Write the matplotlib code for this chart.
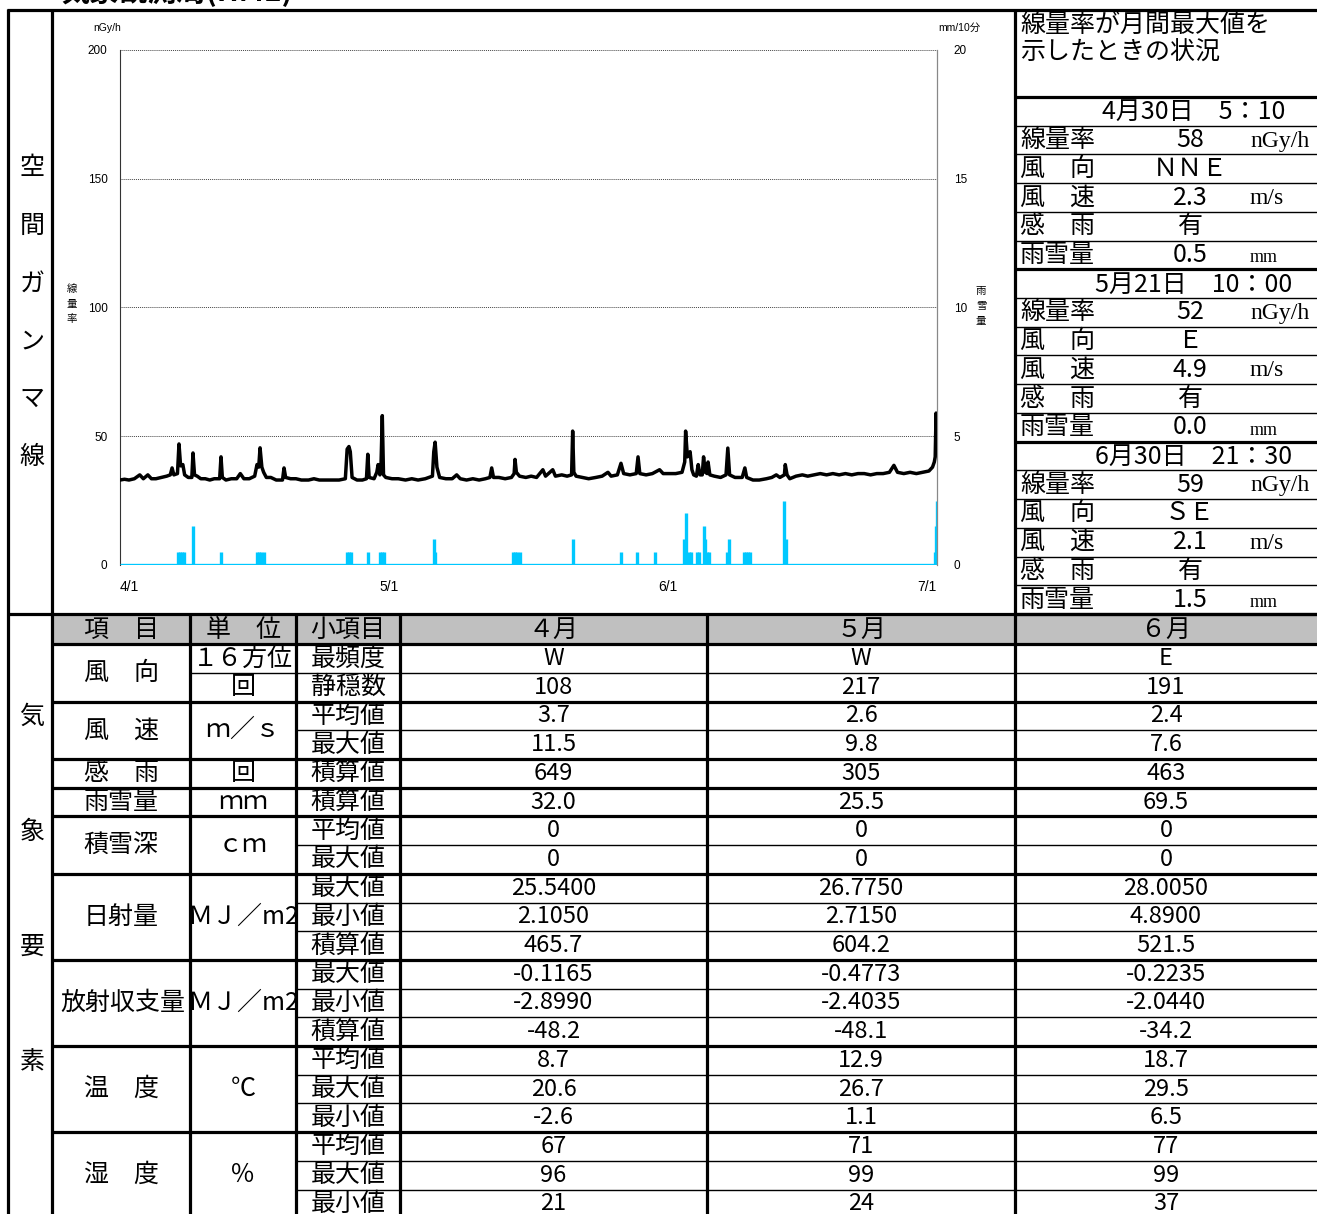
import matplotlib
matplotlib.use('Agg')
import matplotlib.pyplot as plt
from matplotlib.patches import Rectangle

plt.rcParams['font.family'] = ['Noto Sans CJK JP', 'DejaVu Sans']

W, H = 1317, 1214

# ---------------- time series (days since 4/1 00:00) ----------------
dose_readings = [
    (0.0, 33.0), (0.5, 33.3), (1.0, 33.0), (1.6, 33.5), (2.2, 35.0), (2.6, 33.5), (3.1, 35.0),
    (3.5, 33.5), (4.0, 33.5), (4.6, 34.0), (5.2, 34.5), (5.6, 35.0), (5.8, 37.7), (6.0, 35.0),
    (6.4, 35.5), (6.57, 47.0), (6.75, 38.5), (7.0, 39.0), (7.2, 35.0), (7.6, 34.0), (8.0, 34.0),
    (8.13, 43.5), (8.3, 35.0), (8.6, 34.5), (9.0, 33.5), (9.5, 33.5), (10.0, 33.0), (10.5, 33.5),
    (11.1, 33.5), (11.25, 42.0), (11.4, 34.0), (11.8, 33.0), (12.4, 33.5), (13.0, 33.5),
    (13.4, 35.5), (13.8, 33.5), (14.4, 33.5), (15.0, 34.5), (15.26, 39.0), (15.45, 38.0),
    (15.6, 45.5), (15.8, 38.0), (16.0, 36.0), (16.3, 34.0), (16.8, 34.0), (17.4, 33.0),
    (18.1, 33.0), (18.27, 37.7), (18.45, 34.0), (19.0, 33.5), (19.6, 33.5), (20.2, 33.0),
    (21.0, 33.0), (21.6, 33.5), (22.2, 33.0), (23.0, 33.0), (23.7, 33.0), (24.4, 33.0),
    (25.1, 33.5), (25.3, 45.0), (25.5, 46.0), (25.65, 44.0), (25.85, 34.0), (26.4, 33.0),
    (27.0, 33.0), (27.45, 33.5), (27.6, 43.0), (27.75, 34.0), (28.3, 33.5), (28.6, 36.0),
    (28.75, 39.0), (28.95, 35.0), (29.05, 36.0), (29.215, 58.0), (29.35, 35.0), (29.6, 34.0),
    (30.3, 33.5), (31.0, 33.5), (31.8, 33.0), (32.5, 33.5), (33.2, 33.0), (34.0, 33.5),
    (34.8, 34.5), (34.95, 44.0), (35.1, 47.7), (35.3, 38.0), (35.6, 34.0), (36.3, 33.5),
    (37.0, 33.5), (37.5, 35.0), (37.9, 33.5), (38.6, 33.0), (39.3, 33.5), (40.0, 33.0),
    (40.7, 33.5), (41.2, 34.0), (41.4, 37.7), (41.6, 34.0), (42.2, 34.0), (42.9, 33.5),
    (43.6, 34.0), (43.9, 35.5), (44.0, 41.0), (44.15, 36.0), (44.5, 34.5), (45.2, 34.0),
    (45.8, 34.5), (46.4, 34.0), (47.1, 37.0), (47.4, 34.5), (48.2, 37.0), (48.5, 34.5),
    (49.2, 35.0), (49.8, 34.5), (50.3, 35.0), (50.42, 52.0), (50.55, 36.0), (50.8, 34.5),
    (51.5, 34.0), (52.2, 33.5), (53.0, 34.0), (53.7, 34.5), (54.35, 36.0), (54.7, 34.5),
    (55.4, 35.0), (55.8, 39.5), (56.1, 35.5), (56.8, 35.0), (57.5, 35.5), (57.7, 42.0),
    (57.9, 35.5), (58.6, 35.0), (59.3, 35.5), (60.1, 37.0), (60.5, 35.5), (61.2, 35.5),
    (61.9, 35.5), (62.6, 36.0), (62.9, 40.0), (63.0, 52.0), (63.2, 42.0), (63.5, 44.0),
    (63.7, 37.0), (63.9, 35.0), (64.2, 34.5), (64.4, 39.0), (64.6, 35.0), (64.85, 35.0),
    (65.0, 42.0), (65.2, 36.0), (65.4, 35.5), (65.5, 40.0), (65.7, 35.0), (66.2, 34.5),
    (66.9, 34.0), (67.5, 35.0), (67.7, 45.4), (67.9, 35.0), (68.5, 34.0), (69.3, 34.0),
    (69.6, 37.7), (69.8, 34.0), (70.5, 33.0), (71.2, 33.0), (72.0, 33.5), (72.6, 34.0),
    (73.1, 35.0), (73.5, 34.0), (74.0, 35.0), (74.1, 39.0), (74.3, 35.0), (74.6, 33.5),
    (75.3, 34.5), (76.0, 35.0), (76.6, 34.5), (77.3, 35.0), (78.0, 35.5), (78.7, 35.0),
    (79.4, 35.5), (80.1, 35.0), (80.8, 35.5), (81.5, 35.0), (82.2, 35.5), (82.9, 35.5),
    (83.6, 35.0), (84.3, 35.5), (85.0, 35.5), (85.7, 36.0), (86.2, 38.7), (86.6, 36.0),
    (87.3, 35.5), (88.0, 36.0), (88.7, 35.5), (89.4, 36.0), (90.1, 36.5), (90.5, 38.0),
    (90.7, 40.0), (90.8, 42.0), (90.896, 59.0), (91.0, 44.0),
]
dose_day = [d for d, _ in dose_readings]
dose_nGy = [v for _, v in dose_readings]

rain_day = [6.46, 6.68, 6.9, 7.1, 8.13, 11.25, 15.26, 15.48, 15.7, 16.04, 25.28, 25.5, 25.73,
            27.62, 28.96, 29.215, 29.4, 34.97, 35.09, 43.77, 44.0, 44.2, 44.55, 50.46, 55.8,
            57.6, 59.6, 62.8, 63.0, 63.4, 63.6, 64.3, 64.5, 65.05, 65.2, 65.4, 65.6, 67.6, 67.8,
            69.5, 69.7, 69.95, 70.2, 73.96, 74.2, 90.78, 90.896, 90.97]
rain_mm = [0.5, 0.5, 0.5, 0.5, 1.5, 0.5, 0.5, 0.5, 0.5, 0.5, 0.5, 0.5, 0.5,
           0.5, 0.5, 0.5, 0.5, 1.0, 0.5, 0.5, 0.5, 0.5, 0.5, 1.0, 0.5,
           0.5, 0.5, 1.0, 2.0, 0.5, 0.5, 0.5, 0.5, 1.5, 1.0, 0.5, 0.5, 0.5, 1.0,
           0.5, 0.5, 0.5, 0.5, 2.5, 1.0, 0.5, 1.5, 2.5]

date_ticks = [0, 30, 61, 91]
date_labels = ['4/1', '5/1', '6/1', '7/1']
dose_ticks = [0, 50, 100, 150, 200]
rain_ticks = [0, 5, 10, 15, 20]

# ---------------- monthly-maximum situation ----------------
max_when = ['4月30日　5：10', '5月21日　10：00', '6月30日　21：30']
max_dose = ['58', '52', '59']
max_wdir = ['ＮＮＥ', 'Ｅ', 'ＳＥ']
max_wspd = ['2.3', '4.9', '2.1']
max_rsense = ['有', '有', '有']
max_precip = ['0.5', '0.0', '1.5']
situ_labels = ['線量率', '風　向', '風　速', '感　雨', '雨雪量']
situ_units = ['nGy/h', '', 'm/s', '', 'mm']

# ---------------- monthly meteorological summary ----------------
months = ['４月', '５月', '６月']
item_names = ['風　向', '風　速', '感　雨', '雨雪量', '積雪深', '日射量', '放射収支量', '温　度', '湿　度']
item_rows = [2, 2, 1, 1, 2, 3, 3, 3, 3]
unit_names = ['１６方位', '回', 'ｍ／ｓ', '回', 'ｍｍ', 'ｃｍ', 'ＭＪ／m2', 'ＭＪ／m2', '℃', '％']
unit_rows = [1, 1, 2, 1, 1, 2, 3, 3, 3, 3]
sub_items = ['最頻度', '静穏数', '平均値', '最大値', '積算値', '積算値', '平均値', '最大値',
             '最大値', '最小値', '積算値', '最大値', '最小値', '積算値',
             '平均値', '最大値', '最小値', '平均値', '最大値', '最小値']
decimals = [None, 0, 1, 1, 0, 1, 0, 0, 4, 4, 1, 4, 4, 1, 1, 1, 1, 0, 0, 0]
apr = ['W', 108, 3.7, 11.5, 649, 32.0, 0, 0, 25.5400, 2.1050, 465.7, -0.1165, -2.8990, -48.2,
       8.7, 20.6, -2.6, 67, 96, 21]
may = ['W', 217, 2.6, 9.8, 305, 25.5, 0, 0, 26.7750, 2.7150, 604.2, -0.4773, -2.4035, -48.1,
       12.9, 26.7, 1.1, 71, 99, 24]
jun = ['E', 191, 2.4, 7.6, 463, 69.5, 0, 0, 28.0050, 4.8900, 521.5, -0.2235, -2.0440, -34.2,
       18.7, 29.5, 6.5, 77, 99, 37]

# ======================================================================
fig = plt.figure(figsize=(W / 100, H / 100), dpi=100)
bg = fig.add_axes([0, 0, 1, 1])
bg.set_xlim(0, W)
bg.set_ylim(H, 0)
bg.axis('off')

THICK = 2.3
THIN = 1.0


def hline(y, x0, x1, lw=THIN, color='black'):
    bg.plot([x0, x1], [y, y], color=color, lw=lw, solid_capstyle='butt', zorder=3)


def vline(x, y0, y1, lw=THICK, color='black'):
    bg.plot([x, x], [y0, y1], color=color, lw=lw, solid_capstyle='butt', zorder=3)


# station title (runs off the top edge of the sheet)
bg.text(60, 1, '気象観測局(HME)', fontsize=21, fontweight='bold', va='baseline', ha='left')

# outer frame
hline(10, 7, W, THICK)
vline(8, 9, H)
vline(52, 9, H)
hline(614, 7, W, THICK)
vline(1015, 9, 614)

# vertical section labels
for i, ch in enumerate('空間ガンマ線'):
    bg.text(32, 168 + i * 57.8, ch, fontsize=18, ha='center', va='center')
for i, ch in enumerate('気象要素'):
    bg.text(32, 717 + i * 115, ch, fontsize=18, ha='center', va='center')

# ---------------- right-hand situation panel ----------------
bg.text(1020, 25, '線量率が月間最大値を', fontsize=18, va='center', ha='left')
bg.text(1020, 53, '示したときの状況', fontsize=18, va='center', ha='left')
p0, ph = 97.0, 28.72
for k in range(19):
    y = p0 + k * ph
    hline(y, 1015, W, THICK if k % 6 == 0 else THIN)
serif = ['Liberation Serif', 'DejaVu Serif']
for b in range(3):
    top = p0 + 6 * b * ph
    bg.text(1194, top + ph / 2 + 1, max_when[b], fontsize=18, ha='center', va='center')
    vals = [max_dose[b], max_wdir[b], max_wspd[b], max_rsense[b], max_precip[b]]
    for r in range(5):
        yc = top + (r + 1.5) * ph
        bg.text(1020, yc, situ_labels[r], fontsize=18, ha='left', va='center')
        bg.text(1190, yc, vals[r], fontsize=18, ha='center', va='center')
        if situ_units[r]:
            fs = 13 if situ_units[r] == 'mm' else 17
            dy = 3 if situ_units[r] == 'mm' else 1
            bg.text(1250, yc + dy, situ_units[r], fontsize=fs, ha='left', va='center', family=serif)

# ---------------- summary table ----------------
t0, th = 615.5, 28.7
col_x = [52, 190, 296, 400, 707, 1015, W]
bg.add_patch(Rectangle((52, t0), W - 52, th, facecolor='#c0c0c0', edgecolor='none', zorder=1))
header = ['項　目', '単　位', '小項目'] + months
for c, txt in enumerate(header):
    bg.text((col_x[c] + col_x[c + 1]) / 2, t0 + th / 2, txt, fontsize=18, ha='center', va='center')
hline(t0 + th, 52, W, THICK)

# group rows
row = 0
for name, n in zip(item_names, item_rows):
    y_top = t0 + (row + 1) * th
    y_bot = y_top + n * th
    bg.text(121 if name != '放射収支量' else 123, (y_top + y_bot) / 2, name, fontsize=18,
            ha='center', va='center')
    hline(y_bot, 52, W, THICK)
    for k in range(1, n):
        hline(y_top + k * th, 296, W, THIN)
    row += n

row = 0
for name, n in zip(unit_names, unit_rows):
    y_top = t0 + (row + 1) * th
    y_bot = y_top + n * th
    bg.text(243, (y_top + y_bot) / 2, name, fontsize=18, ha='center', va='center')
    row += n
# split unit cell inside the wind-direction group
hline(t0 + 2 * th, 190, 296, THIN)

for r in range(20):
    yc = t0 + (r + 1.5) * th
    bg.text(348, yc, sub_items[r], fontsize=18, ha='center', va='center')
    for c, series in enumerate([apr, may, jun]):
        v = series[r]
        txt = v if decimals[r] is None else f'{v:.{decimals[r]}f}'
        bg.text((col_x[c + 3] + col_x[c + 4]) / 2, yc, txt, fontsize=17, ha='center', va='center')

for x in col_x[1:-1]:
    vline(x, 614, H)

# ---------------- time-series chart ----------------
ax = fig.add_axes([120 / W, 1 - 565 / H, 817 / W, 515 / H])
ax.set_facecolor('none')
ax.set_xlim(0, 91)
ax.set_ylim(0, 200)
ax.set_yticks(dose_ticks)
ax.set_xticks(date_ticks)
ax.set_xticklabels(date_labels)
for lbl, ha in zip(ax.get_xticklabels(), ['left', 'center', 'center', 'right']):
    lbl.set_ha(ha)
ax.tick_params(axis='both', length=0)
ax.tick_params(axis='y', pad=9, labelsize=8.5)
ax.tick_params(axis='x', pad=11, labelsize=10)
for lbl in ax.get_yticklabels() + ax.get_xticklabels():
    lbl.set_family(['Liberation Sans', 'DejaVu Sans'])
ax.grid(axis='y', color='#444444', lw=0.7, ls=(0, (1, 1)))
ax.set_axisbelow(True)
for s in ['top', 'bottom', 'right']:
    ax.spines[s].set_visible(False)
ax.spines['left'].set_color('#333333')
ax.spines['left'].set_linewidth(0.8)

ax2 = ax.twinx()
ax2.set_ylim(0, 20)
ax2.set_yticks(rain_ticks)
ax2.tick_params(axis='y', length=0, pad=12, labelsize=8.5)
for lbl in ax2.get_yticklabels():
    lbl.set_family(['Liberation Sans', 'DejaVu Sans'])
for s in ['top', 'bottom', 'left']:
    ax2.spines[s].set_visible(False)
ax2.spines['right'].set_color('#888888')
ax2.spines['right'].set_linewidth(0.9)

rain_color = '#00C8FF'
ax2.plot([0, 91], [0, 0], color=rain_color, lw=2.4, solid_capstyle='butt', zorder=2)
ax2.vlines(rain_day, 0, rain_mm, color=rain_color, lw=2.4, zorder=2)
ax2.plot(dose_day, [v / 10 for v in dose_nGy], color='black', lw=2.5, zorder=3)

# axis captions
small = ['Liberation Sans', 'Noto Sans CJK JP']
bg.text(93, 28, 'nGy/h', fontsize=7.5, ha='left', va='center', family=small)
bg.text(938, 28, 'mm/10分', fontsize=7.5, ha='left', va='center', family=small)
for i, ch in enumerate('線量率'):
    bg.text(72, 289 + i * 15, ch, fontsize=7.5, ha='center', va='center')
for i, ch in enumerate('雨雪量'):
    bg.text(981, 291 + i * 15, ch, fontsize=7.5, ha='center', va='center')

fig.savefig('out.png', dpi=100)
